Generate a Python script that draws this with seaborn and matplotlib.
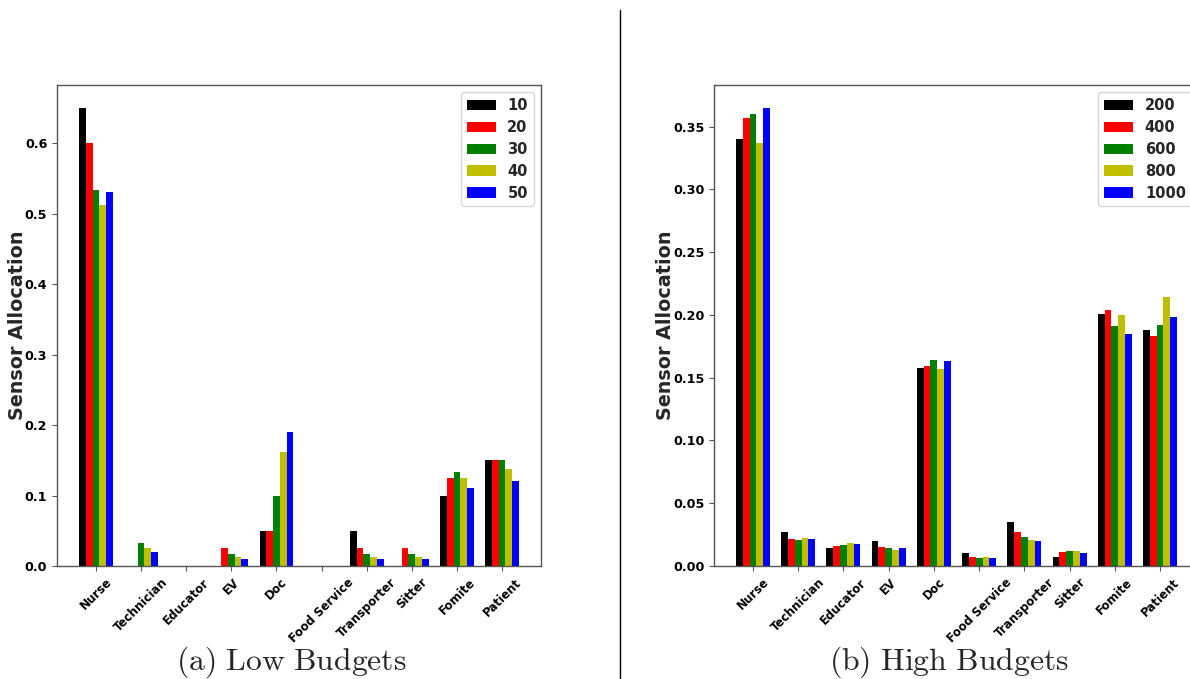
import numpy as np
import pandas as pd
import matplotlib
matplotlib.use("Agg")
import matplotlib.pyplot as plt
from matplotlib.lines import Line2D
import seaborn as sns

categories = ['Nurse', 'Technician', 'Educator', 'EV', 'Doc', 'Food Service',
              'Transporter', 'Sitter', 'Fomite', 'Patient']

low_budgets = ['10', '20', '30', '40', '50']
low_10 = [0.650, 0.0, 0.0, 0.0, 0.050, 0.0, 0.050, 0.0, 0.100, 0.150]
low_20 = [0.600, 0.0, 0.0, 0.025, 0.050, 0.0, 0.025, 0.025, 0.125, 0.150]
low_30 = [0.533, 0.033, 0.0, 0.017, 0.100, 0.0, 0.017, 0.017, 0.133, 0.150]
low_40 = [0.512, 0.025, 0.0, 0.0125, 0.162, 0.0, 0.0125, 0.0125, 0.125, 0.137]
low_50 = [0.530, 0.020, 0.0, 0.010, 0.190, 0.0, 0.010, 0.010, 0.110, 0.120]

high_budgets = ['200', '400', '600', '800', '1000']
high_200 = [0.340, 0.0274, 0.0146, 0.0197, 0.158, 0.0101, 0.0348, 0.0074, 0.201, 0.188]
high_400 = [0.357, 0.0213, 0.0162, 0.0149, 0.159, 0.0074, 0.0274, 0.0112, 0.204, 0.183]
high_600 = [0.360, 0.0205, 0.0167, 0.0141, 0.164, 0.0064, 0.0231, 0.0117, 0.191, 0.192]
high_800 = [0.337, 0.0220, 0.0183, 0.0125, 0.157, 0.0070, 0.0210, 0.0120, 0.200, 0.214]
high_1000 = [0.365, 0.0213, 0.0175, 0.0141, 0.1635, 0.0067, 0.0199, 0.0101, 0.185, 0.1986]

colors = ['#000000', '#ff0000', '#008000', '#bfbf00', '#0000ff']

sns.set_style("white")
plt.rcParams['font.family'] = ['DejaVu Sans']
plt.rcParams['mathtext.fontset'] = 'cm'


def long_df(budgets, series):
    rows = []
    for b, vals in zip(budgets, series):
        for c, v in zip(categories, vals):
            rows.append({'cat': c, 'val': v, 'budget': b})
    return pd.DataFrame(rows)


W, H = 1190, 679
fig = plt.figure(figsize=(W / 100, H / 100), dpi=100)
ax1 = fig.add_axes([57 / W, (H - 566) / H, 484 / W, 481 / H])
ax2 = fig.add_axes([714 / W, (H - 566) / H, 485 / W, 481 / H])

panels = [
    (ax1, long_df(low_budgets, [low_10, low_20, low_30, low_40, low_50]), low_budgets, -0.063, '%.1f'),
    (ax2, long_df(high_budgets, [high_200, high_400, high_600, high_800, high_1000]), high_budgets, -0.081, '%.2f'),
]

for ax, df, budgets, lab_x, fmt in panels:
    sns.barplot(data=df, x='cat', y='val', hue='budget', hue_order=budgets,
                order=categories, palette=colors, width=0.75, saturation=1,
                errorbar=None, linewidth=0, ax=ax)
    ax.set_xlim(-0.8625, 9.8625)
    ax.set_xlabel('')
    ax.set_ylabel('Sensor Allocation', fontsize=13.8, fontweight='bold')
    ax.yaxis.set_label_coords(lab_x, 0.5)
    ax.yaxis.set_major_formatter(matplotlib.ticker.FormatStrFormatter(fmt))
    for s in ax.spines.values():
        s.set_color('#555555')
        s.set_linewidth(1.0)
    ax.tick_params(axis='both', colors='#555555', labelcolor='black',
                   length=3.5, width=0.8, labelsize=9.2, left=True, bottom=True)
    ax.set_xticks(range(len(categories)))
    ax.set_xticklabels(categories, rotation=45, ha='center', fontweight='bold', fontsize=8.5)
    for lab in ax.get_yticklabels():
        lab.set_fontweight('bold')
    handles, labels = ax.get_legend_handles_labels()
    ax.legend(handles, labels, loc='upper right', prop={'weight': 'bold', 'size': 10.5},
              labelspacing=0.47, frameon=True)

fig.text(291 / W, 9 / H, r'$\mathrm{(a)\ Low\ Budgets}$', ha='center', va='baseline', fontsize=22.8)
fig.text(949 / W, 9 / H, r'$\mathrm{(b)\ High\ Budgets}$', ha='center', va='baseline', fontsize=22.8)

fig.add_artist(Line2D([620 / W, 620 / W], [0, 1 - 10 / H], color='black', linewidth=1.0))

fig.savefig('out.png', dpi=100)
